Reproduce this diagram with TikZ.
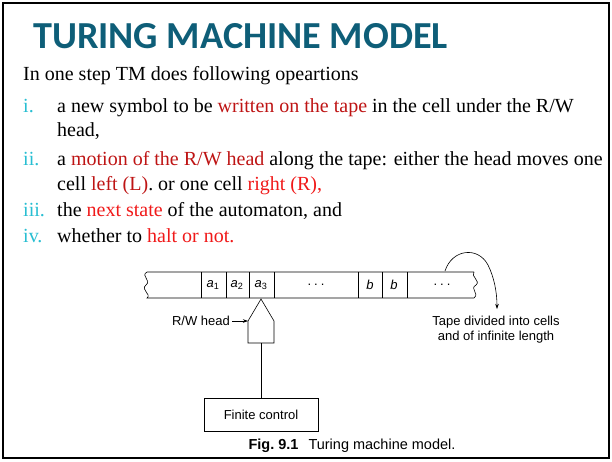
\documentclass[tikz,border=0pt]{standalone}
\usepackage{fontspec}
\setmainfont{Liberation Serif}
\newfontfamily\titlefont{Carlito}
\newfontfamily\diagfont{Liberation Sans}
\usetikzlibrary{arrows.meta}
\definecolor{titleteal}{RGB}{14,94,120}
\definecolor{numcyan}{RGB}{40,190,210}
\definecolor{darkred}{RGB}{190,20,20}
\definecolor{brightred}{RGB}{240,25,25}
\begin{document}
\begin{tikzpicture}[x=1pt,y=-1pt,
  body/.style={anchor=base west,inner sep=0,font=\fontsize{20}{22}\selectfont},
  num/.style={anchor=base west,inner sep=0,text=numcyan,font=\fontsize{20}{22}\selectfont},
  cell/.style={inner sep=0,font=\diagfont\fontsize{13}{15}\selectfont},
  lbl/.style={inner sep=0,font=\diagfont\fontsize{13}{15}\selectfont},
  tapeline/.style={line width=0.6pt},
  arr/.style={-{Stealth[length=5pt,width=3.5pt]},line width=0.6pt}]
\useasboundingbox (0,0) rectangle (612,461);
\draw[line width=2pt] (3,3) rectangle (609,458);
\node[anchor=base west,inner sep=0,text=titleteal,font=\titlefont\bfseries\fontsize{38.2}{40}\selectfont] (title) at (33,48) {TURING MACHINE MODEL};
\node[body] (intro) at (23,80) {In one step TM does following opeartions};
\node[num] (n1) at (23,112) {i.};
\node[body] (l1a) at (57,112) {a new symbol to be \textcolor{darkred}{written on the tape} in the cell under the R/W};
\node[body] (l1b) at (57,136) {head,};
\node[num] (n2) at (23,165) {ii.};
\node[body] (l2a) at (57,165) {a \textcolor{darkred}{motion of the R/W head} along the tape: either the head moves one};
\node[body] (l2b) at (57,190) {cell \textcolor{darkred}{left (L)}. or one cell \textcolor{brightred}{right (R),}};
\node[num] (n3) at (23,216) {iii.};
\node[body] (l3) at (57,216) {the \textcolor{brightred}{next state} of the automaton, and};
\node[num] (n4) at (23,242) {iv.};
\node[body] (l4) at (57,242) {whether to \textcolor{brightred}{halt or not.}};
% tape
\draw[tapeline] (474,272) -- (147,272)
  .. controls (140,276) and (152,280) .. (146,285)
  .. controls (140,290) and (152,294) .. (147,298) -- (474,298)
  .. controls (480,293) and (469,289) .. (476,285)
  .. controls (481,281) and (470,276) .. (474,272);
\foreach \x in {201,226,249,274,358,382,407}
  \draw[tapeline] (\x,272) -- (\x,298);
\node[cell] (c1) at (213,285) {\textit{a}\textsubscript{1}};
\node[cell] (c2) at (237,285) {\textit{a}\textsubscript{2}};
\node[cell] (c3) at (261,285) {\textit{a}\textsubscript{3}};
\node[cell] (c4) at (316,285) {.\hspace{3pt}.\hspace{3pt}.};
\node[cell] (c5) at (370,285) {\textit{b}};
\node[cell] (c6) at (394,285) {\textit{b}};
\node[cell] (c7) at (442,285) {.\hspace{3pt}.\hspace{3pt}.};
% head
\draw[tapeline] (248,343) -- (248,321) -- (261,299) -- (274,321) -- (274,343) -- cycle;
\coordinate (headL) at (248,321);
\coordinate (headB) at (261,343);
\node[lbl,anchor=east] (rw) at (230,321) {R/W head};
\draw[arr] (rw.east) ++(2,0) -- (headL);
\node[draw,line width=0.6pt,minimum width=114pt,minimum height=33pt,font=\diagfont\fontsize{13}{15}\selectfont] (fc) at (261,414.5) {Finite control};
\draw[tapeline] (headB) -- (fc.north);
% curved arrow
\coordinate (tapeTop) at (445,271);
\node[lbl,align=center] (tlabel) at (496,330) {Tape divided into cells\\[0pt]and of infinite length};
\draw[arr] (tapeTop) .. controls (452,249) and (478,246) .. (488,265)
  .. controls (494,277) and (497,292) .. (497,309);
\node[inner sep=0,font=\diagfont\fontsize{14.5}{16}\selectfont] (cap) at (352,446) {\textbf{Fig.\ 9.1}\hspace{10pt}Turing machine model.};
\end{tikzpicture}
\end{document}
